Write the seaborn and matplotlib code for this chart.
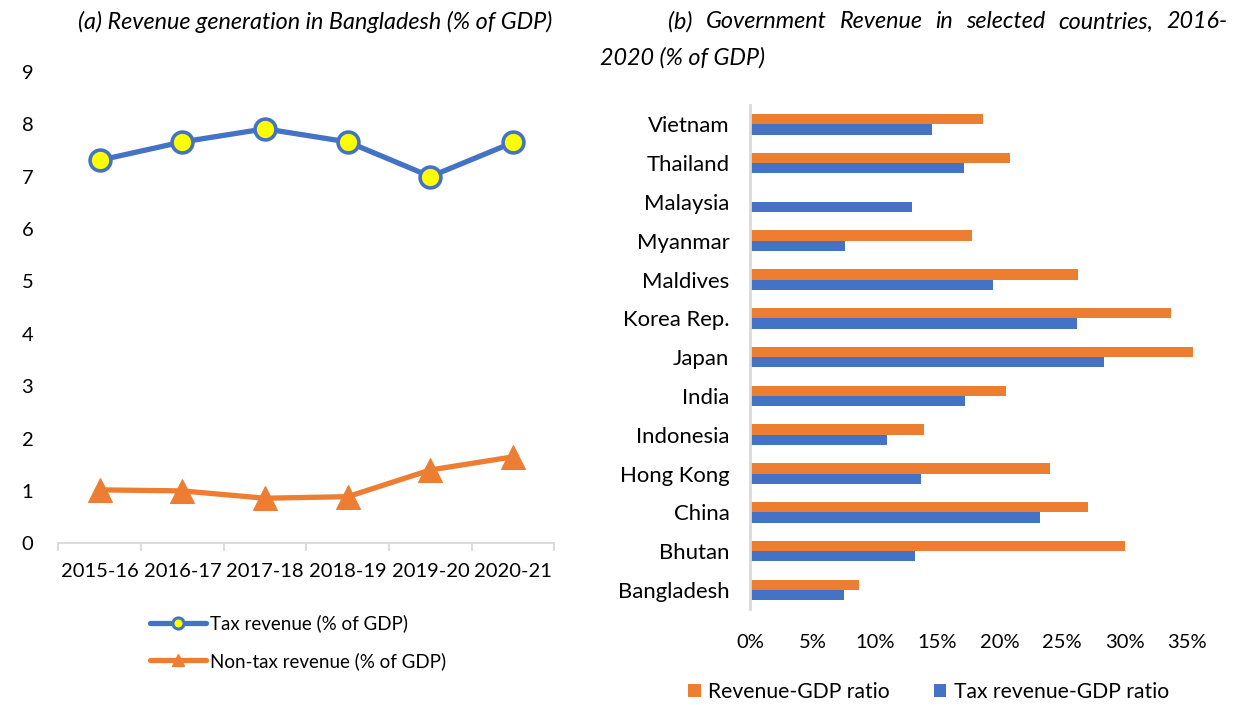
import matplotlib
matplotlib.use("Agg")
import matplotlib.pyplot as plt
import seaborn as sns
import pandas as pd
import numpy as np
from matplotlib.lines import Line2D
from matplotlib.patches import Patch

# ---------------- data ----------------
years = ["2015-16", "2016-17", "2017-18", "2018-19", "2019-20", "2020-21"]
tax_revenue = [7.31, 7.66, 7.91, 7.66, 7.00, 7.65]
nontax_revenue = [1.02, 1.00, 0.86, 0.89, 1.40, 1.65]

countries = ["Vietnam", "Thailand", "Malaysia", "Myanmar", "Maldives", "Korea Rep.",
             "Japan", "India", "Indonesia", "Hong Kong", "China", "Bhutan", "Bangladesh"]
revenue_gdp = [0.1866, 0.2085, np.nan, 0.1777, 0.2625, 0.3373, 0.3552, 0.2046,
               0.1391, 0.2403, 0.2704, 0.3005, 0.0868]
tax_gdp = [0.1456, 0.1715, 0.1299, 0.0759, 0.1948, 0.2622, 0.2835, 0.1719,
           0.1093, 0.1368, 0.2324, 0.1316, 0.0753]
x_ticks_b = [0, 0.05, 0.10, 0.15, 0.20, 0.25, 0.30, 0.35]

title_a = "(a) Revenue generation in Bangladesh (% of GDP)"
title_b1 = "(b) Government Revenue in selected countries, 2016-"
title_b2 = "2020 (% of GDP)"
leg_a = ["Tax revenue (% of GDP)", "Non-tax revenue (% of GDP)"]
leg_b = ["Revenue-GDP ratio", "Tax revenue-GDP ratio"]

BLUE = "#4472C4"
ORANGE = "#ED7D31"
YELLOW = "#FFFF00"
GRAY = "#D9D9D9"

sns.set_theme(style="white")
plt.rcParams["font.family"] = ["Lato", "DejaVu Sans"]
plt.rcParams["text.color"] = "#000000"
plt.rcParams["xtick.color"] = "#000000"
plt.rcParams["ytick.color"] = "#000000"

W, H = 1234, 705
fig = plt.figure(figsize=(W / 100, H / 100), dpi=100)

def fx(px):
    return px / W

def fy(py):
    return 1 - py / H

TICK_FS = 14.5
TITLE_FS = 16.8

# ---------------- left chart ----------------
axL = fig.add_axes([fx(58.3), fy(543.3), fx(554.5 - 58.3), (543.3 - 71.7) / H])
pos = np.arange(len(years))
sns.lineplot(x=pos, y=tax_revenue, ax=axL, color=BLUE, linewidth=3.8, marker="o",
             markersize=15, markerfacecolor=YELLOW, markeredgecolor=BLUE,
             markeredgewidth=2.6, zorder=3)
sns.lineplot(x=pos, y=nontax_revenue, ax=axL, color=ORANGE, linewidth=3.8, marker="^",
             markersize=17, markerfacecolor=ORANGE, markeredgecolor=ORANGE, zorder=3)
axL.set_xlim(-0.5, len(years) - 0.5)
axL.set_ylim(0, 9)
axL.set_yticks(range(0, 10))
axL.set_yticklabels([str(i) for i in range(0, 10)], fontsize=TICK_FS)
axL.set_xticks(np.arange(-0.5, len(years), 1.0))
axL.set_xticklabels([""] * (len(years) + 1))
axL.set_xticks(pos, minor=True)
axL.set_xticklabels(years, minor=True, fontsize=TICK_FS)
axL.tick_params(axis="x", which="major", length=6, width=1.3, color=GRAY, direction="out", bottom=True)
axL.tick_params(axis="x", which="minor", length=0, pad=14)
axL.tick_params(axis="y", length=0, pad=18)
for s in ["top", "right", "left"]:
    axL.spines[s].set_visible(False)
axL.spines["bottom"].set_color(GRAY)
axL.spines["bottom"].set_linewidth(1.3)
axL.set_xlabel("")
axL.set_ylabel("")
axL.grid(False)
for lab in axL.get_yticklabels():
    lab.set_horizontalalignment("right")

fig.text(fx(315), fy(22), title_a, ha="center", va="center", fontsize=TITLE_FS, style="italic")

handles_a = [
    Line2D([0], [0], color=BLUE, linewidth=3.8, marker="o", markersize=8,
           markerfacecolor=YELLOW, markeredgecolor=BLUE, markeredgewidth=2.2),
    Line2D([0], [0], color=ORANGE, linewidth=3.8, marker="^", markersize=9,
           markerfacecolor=ORANGE, markeredgecolor=ORANGE),
]
fig.legend(handles_a, leg_a, loc="upper left", bbox_to_anchor=(fx(142), fy(607)),
           frameon=False, fontsize=TICK_FS - 1, handlelength=3.0, handletextpad=0.2,
           labelspacing=1.05, borderaxespad=0)

# ---------------- right chart ----------------
axR = fig.add_axes([fx(750.4), fy(609.3), (0.36 * 100 * 12.47) / W, (609.3 - 105) / H])
df = pd.DataFrame({
    "country": countries * 2,
    "value": revenue_gdp + tax_gdp,
    "series": [leg_b[0]] * len(countries) + [leg_b[1]] * len(countries),
})
sns.barplot(data=df, y="country", x="value", hue="series", order=countries,
            hue_order=leg_b, palette=[ORANGE, BLUE], orient="h", width=0.53,
            ax=axR, saturation=1, legend=False, linewidth=0)
for p in axR.patches:
    p.set_clip_on(False)
axR.set_xlim(0, 0.36)
axR.set_ylim(len(countries) - 0.5, -0.5)
axR.set_xticks(x_ticks_b)
axR.set_xticklabels([f"{int(round(t * 100))}%" for t in x_ticks_b], fontsize=TICK_FS)
axR.tick_params(axis="both", length=0)
axR.tick_params(axis="x", pad=18)
axR.tick_params(axis="y", pad=15)
for lab in axR.get_yticklabels():
    lab.set_fontsize(TICK_FS + 1.4)
for s in ["top", "right", "bottom"]:
    axR.spines[s].set_visible(False)
axR.spines["left"].set_color(GRAY)
axR.spines["left"].set_linewidth(2)
axR.set_xlabel("")
axR.set_ylabel("")
axR.grid(False)

handles_b = [Patch(facecolor=ORANGE, edgecolor="none"), Patch(facecolor=BLUE, edgecolor="none")]
fig.legend(handles_b, leg_b, loc="center left", bbox_to_anchor=(fx(680), fy(692)),
           frameon=False, fontsize=TICK_FS + 0.7, ncol=2, handlelength=0.6, handleheight=0.6,
           handletextpad=0.35, columnspacing=2.05, borderaxespad=0)

# justified first line of title (b)
renderer = fig.canvas.get_renderer()
words = title_b1.split(" ")
texts = [fig.text(0, fy(22), w, ha="left", va="center", fontsize=TITLE_FS, style="italic") for w in words]
widths = [t.get_window_extent(renderer).width for t in texts]
x0, x1 = 668, 1228
gap = (x1 - x0 - sum(widths)) / (len(words) - 1)
cur = x0
for t, wdt in zip(texts, widths):
    t.set_x(fx(cur))
    cur += wdt + gap
fig.text(fx(600), fy(58), title_b2, ha="left", va="center", fontsize=TITLE_FS, style="italic")

fig.savefig("out.png", dpi=100)
